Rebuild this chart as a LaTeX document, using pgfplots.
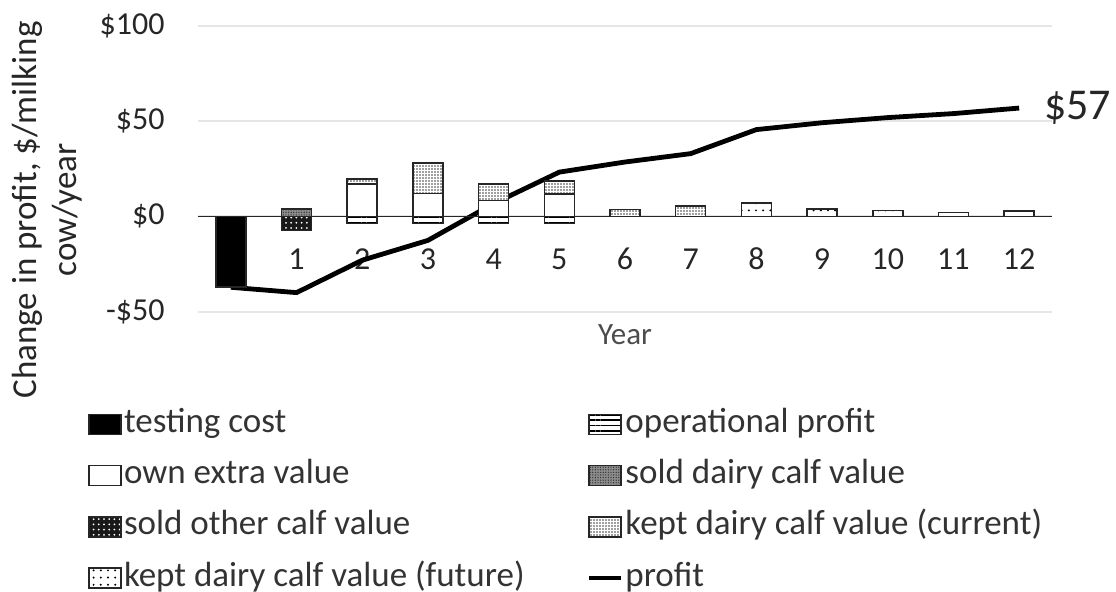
\documentclass[border=0pt]{standalone}
\usepackage{fontspec}
\setmainfont{Carlito}
\usepackage{pgfplots}
\pgfplotsset{compat=1.18}
\usetikzlibrary{patterns.meta}
\definecolor{txt}{HTML}{262626}
\definecolor{gridc}{HTML}{E6E6E6}
\pgfplotsset{
  bo/.style={draw=black!85, line width=0.8pt},
  tcst/.style={bo, fill=black},
  opst/.style={bo, fill=white, postaction={pattern={Lines[angle=0,distance=2.6pt,line width=0.9pt]}, pattern color=black}},
  ownst/.style={bo, fill=white},
  sdcst/.style={bo, fill=black!45, postaction={pattern={Dots[radius=0.35pt,distance=1.3pt]}, pattern color=black!80}},
  socst/.style={bo, fill=black!90, postaction={pattern={Dots[radius=0.5pt,distance=2.6pt]}, pattern color=white}},
  kdcst/.style={bo, fill=white, postaction={pattern={Dots[radius=0.45pt,distance=1.5pt]}, pattern color=black!75}},
  kdfst/.style={bo, fill=white, postaction={pattern={Dots[radius=0.55pt,distance=3.6pt]}, pattern color=black}},
  sw/.style={legend image code/.code={\draw[##1] (0pt,-5pt) rectangle (16pt,5pt);}},
  lw/.style={legend image code/.code={\draw[##1] (0pt,0pt) -- (16pt,0pt);}},
}
\begin{document}
\begin{tikzpicture}
\useasboundingbox (-99pt,-140.15pt) rectangle (459pt,155.85pt);
\begin{axis}[
  scale only axis,
  width=427pt, height=143pt,
  at={(0pt,0pt)}, anchor=south west,
  xmin=-0.5, xmax=12.5,
  ymin=-50, ymax=100,
  ybar stacked, bar width=15pt,
  xtick={0,...,12},
  xticklabels={{},1,2,3,4,5,6,7,8,9,10,11,12},
  ytick={-50,0,50,100},
  yticklabels={-\$50,\$0,\$50,\$100},
  axis line style={draw=none},
  major tick length=0pt,
  ymajorgrids, grid style={gridc, line width=1pt},
  tick label style={font=\fontsize{16}{19}\selectfont, text=txt, inner sep=0pt},
  yticklabel style={anchor=east, xshift=-16.5pt},
  xticklabel style={anchor=center, yshift=26.35pt},
  xlabel={Year},
  xlabel style={at={(axis description cs:0.5,-0.0815)}, anchor=center, font=\fontsize{15.5}{18}\selectfont, text=black!70},
  ylabel={Change in profit, \$/milking\\cow/year},
  ylabel style={at={(axis description cs:-0.1768,0.356)}, anchor=center, align=center, font=\fontsize{17.5}{20}\selectfont, text=txt},
  clip=false,
  legend columns=2,
  legend cell align=left,
  legend style={at={(axis description cs:-0.1288,-0.33)}, anchor=north west, draw=none, fill=none,
    font=\fontsize{17.5}{21}\selectfont, text=black!80, inner sep=0pt, row sep=7.6pt,
    nodes={inner sep=1pt, text height=12pt, text depth=4pt},
    /tikz/every even column/.append style={column sep=30pt}},
]
% negative parts (stacked separately below zero)
\addplot[tcst, forget plot] coordinates {(0,-37.2) (1,0) (2,0) (3,0) (4,0) (5,0) (6,0) (7,0) (8,0) (9,0) (10,0) (11,0) (12,0)};
\addplot[opst, forget plot] coordinates {(0,0) (1,0) (2,-3.7) (3,-3.7) (4,-3.7) (5,-3.7) (6,0) (7,0) (8,0) (9,0) (10,0) (11,0) (12,0)};
\addplot[socst, forget plot] coordinates {(0,0) (1,-7.5) (2,0) (3,0) (4,0) (5,0) (6,0) (7,0) (8,0) (9,0) (10,0) (11,0) (12,0)};
% positive parts
\addplot[ownst, forget plot] coordinates {(0,0) (1,0) (2,17) (3,12) (4,8.3) (5,11.8) (6,0) (7,0) (8,0) (9,0) (10,0) (11,0) (12,0)};
\addplot[sdcst, forget plot] coordinates {(0,0) (1,4) (2,0) (3,0) (4,0) (5,0) (6,0) (7,0) (8,0) (9,0) (10,0) (11,0) (12,0)};
\addplot[kdcst, forget plot] coordinates {(0,0) (1,0) (2,2.7) (3,16) (4,8.7) (5,6.6) (6,3.5) (7,5.5) (8,0) (9,0) (10,0) (11,0) (12,0)};
\addplot[kdfst, forget plot] coordinates {(0,0) (1,0) (2,0) (3,0) (4,0) (5,0) (6,0) (7,0) (8,7) (9,3.8) (10,3) (11,2) (12,2.8)};
\draw[black!85, line width=0.8pt] (axis cs:-0.5,0) -- (axis cs:12.5,0);
\addplot[stack plots=false, sharp plot, black, line width=2.4pt, line join=round, forget plot] coordinates {(0,-37.2) (1,-40) (2,-23) (3,-12.6) (4,6.7) (5,23.2) (6,28.5) (7,32.9) (8,45.5) (9,49.1) (10,51.8) (11,53.9) (12,56.8)};
\node[anchor=west, xshift=9pt, font=\fontsize{22}{26}\selectfont, text=txt] at (axis cs:12,56.8) {\$57};
% legend
\addlegendimage{tcst, sw}\addlegendentry{testing cost}
\addlegendimage{opst, sw}\addlegendentry{operational profit}
\addlegendimage{ownst, sw}\addlegendentry{own extra value}
\addlegendimage{sdcst, sw}\addlegendentry{sold dairy calf value}
\addlegendimage{socst, sw}\addlegendentry{sold other calf value}
\addlegendimage{kdcst, sw}\addlegendentry{kept dairy calf value (current)}
\addlegendimage{kdfst, sw}\addlegendentry{kept dairy calf value (future)}
\addlegendimage{black, line width=2.4pt, lw}\addlegendentry{profit}
\end{axis}
\end{tikzpicture}
\end{document}
